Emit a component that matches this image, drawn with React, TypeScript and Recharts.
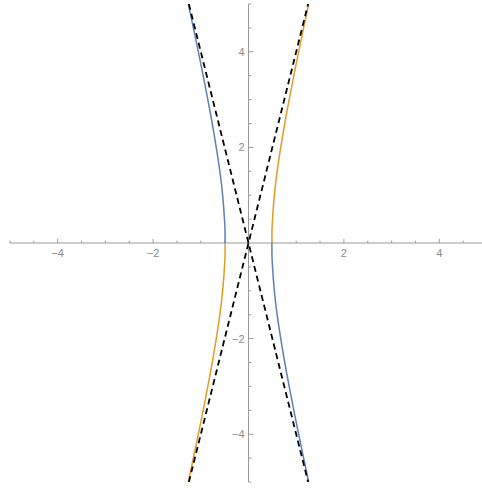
import { LineChart, Line, XAxis, YAxis, ReferenceLine } from "recharts";

// Upper-right branch of the hyperbola; the other three branches are mirrored from it
const branchY = [0, 0.25, 0.5, 1, 1.5, 2, 2.5, 3, 3.5, 4, 4.5, 5];
const branchX = [0.49, 0.492, 0.504, 0.542, 0.601, 0.676, 0.76, 0.853, 0.95, 1.051, 1.156, 1.262];

// Dashed asymptotes y = ±4x, drawn end to end across the plot
const asymptoteX = [-1.25, 1.25];
const asymptoteSlope = 4;

const majorTicks = [-4, -2, 2, 4];
const minorTicksX = [-5, -4.5, -3.5, -3, -2.5, -1.5, -1, -0.5, 0.5, 1, 1.5, 2.5, 3, 3.5, 4.5];
const minorTicksY = [-5, -4.5, -3.5, -3, -2.5, -1.5, -1, -0.5, 0.5, 1, 1.5, 2.5, 3, 3.5, 4.5, 5];

const BLUE = "#5e81b5";
const ORANGE = "#e19c24";
const AXIS = "#9a9a9a";
const LABEL = "#8a8a8a";

const mirror = (sx: number, sy: number) =>
  branchX
    .map((x, i) => ({ x: sx * x, y: sy * branchY[i] }))
    .sort((a, b) => a.x - b.x);

const orangeUpper = mirror(1, 1);
const orangeLower = mirror(-1, -1);
const blueUpper = mirror(-1, 1);
const blueLower = mirror(1, -1);

const risingLine = asymptoteX.map((x) => ({ x, y: asymptoteSlope * x }));
const fallingLine = asymptoteX.map((x) => ({ x, y: -asymptoteSlope * x }));

// tick lengths in data units (about 4-5px major, 2-3px minor)
const X_MAJOR = 0.085;
const X_MINOR = 0.05;
const Y_MAJOR = 0.105;
const Y_MINOR = 0.06;

const fmt = (v: number) => (v < 0 ? `\u2212${Math.abs(v)}` : `${v}`);

const labelStyle = {
  fill: LABEL,
  fontSize: 11,
  fontFamily: "'Liberation Sans', Arial, sans-serif",
};

const App = () => {
  return (
    <div
      style={{
        position: "absolute",
        left: 0,
        top: 0,
        width: 482,
        height: 488,
        overflow: "hidden",
        background: "#fff",
      }}
    >
      <LineChart
        width={487}
        height={488}
        margin={{ top: 4, right: 0, left: 10, bottom: 6 }}
      >
        <XAxis type="number" dataKey="x" domain={[-5, 5]} hide allowDataOverflow />
        <YAxis type="number" dataKey="y" domain={[-5, 5]} hide allowDataOverflow />

        {/* axes through the origin */}
        <ReferenceLine y={0} stroke={AXIS} strokeWidth={1} />
        <ReferenceLine x={0} stroke={AXIS} strokeWidth={1} />

        {/* x axis ticks, pointing up */}
        {minorTicksX.map((t) => (
          <ReferenceLine
            key={`xm${t}`}
            segment={[{ x: t, y: 0 }, { x: t, y: X_MINOR }]}
            stroke={AXIS}
          />
        ))}
        {majorTicks.map((t) => (
          <ReferenceLine
            key={`xM${t}`}
            segment={[{ x: t, y: 0 }, { x: t, y: X_MAJOR }]}
            stroke={AXIS}
            label={{ value: fmt(t), position: "bottom", offset: 6, style: labelStyle }}
          />
        ))}

        {/* y axis ticks, pointing right */}
        {minorTicksY.map((t) => (
          <ReferenceLine
            key={`ym${t}`}
            segment={[{ x: 0, y: t }, { x: Y_MINOR, y: t }]}
            stroke={AXIS}
          />
        ))}
        {majorTicks.map((t) => (
          <ReferenceLine
            key={`yM${t}`}
            segment={[{ x: 0, y: t }, { x: Y_MAJOR, y: t }]}
            stroke={AXIS}
            label={{ value: fmt(t), position: "left", offset: 4, style: labelStyle }}
          />
        ))}

        <Line data={blueUpper} dataKey="y" type="monotone" stroke={BLUE} strokeWidth={1.5} dot={false} activeDot={false} isAnimationActive={false} />
        <Line data={blueLower} dataKey="y" type="monotone" stroke={BLUE} strokeWidth={1.5} dot={false} activeDot={false} isAnimationActive={false} />
        <Line data={orangeUpper} dataKey="y" type="monotone" stroke={ORANGE} strokeWidth={1.5} dot={false} activeDot={false} isAnimationActive={false} />
        <Line data={orangeLower} dataKey="y" type="monotone" stroke={ORANGE} strokeWidth={1.5} dot={false} activeDot={false} isAnimationActive={false} />

        <Line data={risingLine} dataKey="y" type="linear" stroke="#000" strokeWidth={1.8} strokeDasharray="6 4" dot={false} activeDot={false} isAnimationActive={false} />
        <Line data={fallingLine} dataKey="y" type="linear" stroke="#000" strokeWidth={1.8} strokeDasharray="6 4" dot={false} activeDot={false} isAnimationActive={false} />
      </LineChart>
    </div>
  );
};

export default App;
